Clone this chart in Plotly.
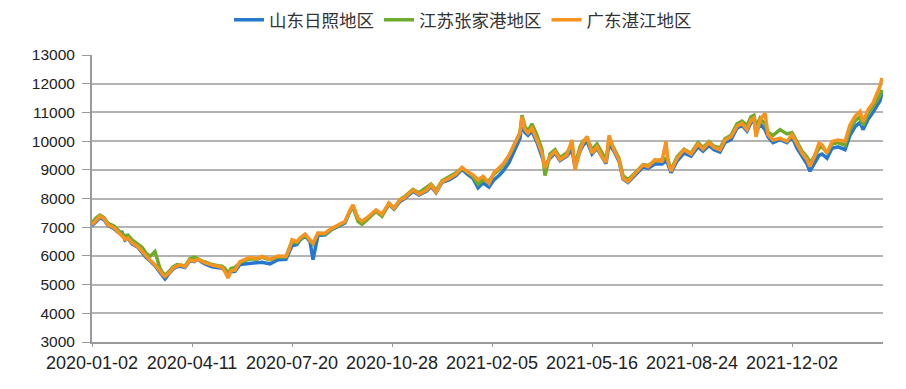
import pandas as pd
import plotly.graph_objects as go

start_date = "2020-01-02"
day_offsets = [0, 4, 8, 12, 16, 22, 26, 30, 33, 36, 40, 46, 50, 54, 58, 63, 68, 71, 73, 77,
               81, 85, 89, 93, 98, 102, 106, 110, 114, 120, 126, 130, 133, 136, 139, 143, 148, 152, 158, 165,
               170, 178, 186, 194, 197, 200, 205, 208, 213, 218, 221, 226, 233, 239, 246, 253, 258, 261, 266, 270,
               275, 284, 290, 297, 302, 308, 312, 321, 327, 335, 339, 344, 350, 357, 364, 370, 375, 381, 386, 391,
               397, 402, 407, 411, 417, 421, 426, 428, 430, 433, 436, 440, 445, 450, 453, 458, 463, 468, 475, 480,
               483, 488, 491, 495, 500, 505, 510, 514, 517, 522, 527, 531, 536, 541, 545, 551, 556, 563, 570, 574,
               576, 579, 585, 592, 599, 606, 611, 617, 622, 628, 633, 639, 645, 650, 655, 659, 662, 664, 668, 673,
               676, 681, 688, 695, 700, 705, 710, 715, 718, 723, 727, 730, 735, 740, 746, 753, 758, 763, 768, 771,
               776, 781, 785, 788, 790]

shandong_rizhao = [7050, 7200, 7330, 7260, 7060, 6950, 6820, 6820, 6550, 6600, 6420, 6300, 6120, 5950, 5820, 5660, 5420, 5300, 5200, 5380,
                   5540, 5620, 5640, 5600, 5840, 5800, 5880, 5780, 5700, 5620, 5600, 5570, 5500, 5350, 5450, 5460, 5700, 5720, 5740, 5760,
                   5780, 5720, 5870, 5880, 6100, 6350, 6400, 6550, 6700, 6500, 5870, 6720, 6730, 6900, 7030, 7150, 7550, 7700, 7280, 7180,
                   7300, 7550, 7420, 7800, 7630, 7900, 7980, 8250, 8120, 8270, 8420, 8200, 8560, 8650, 8800, 9020, 8860, 8700, 8370, 8550,
                   8400, 8650, 8800, 8950, 9250, 9550, 9900, 10100, 10600, 10300, 10200, 10350, 9950, 9500, 9150, 9400, 9580, 9320, 9480, 9700,
                   9100, 9650, 9850, 10000, 9550, 9750, 9420, 9220, 9900, 9650, 9300, 8680, 8560, 8720, 8880, 9100, 9050, 9200, 9200, 9300,
                   9200, 8900, 9300, 9580, 9480, 9800, 9650, 9850, 9700, 9620, 9950, 10050, 10450, 10550, 10350, 10650, 10700, 10300, 10600, 10400,
                   10150, 9950, 10050, 9950, 10150, 9750, 9450, 9200, 8950, 9250, 9500, 9550, 9400, 9750, 9800, 9700, 10200, 10500, 10650, 10400,
                   10750, 11000, 11200, 11400, 11680]

jiangsu_zhangjiagang = [7150, 7320, 7420, 7340, 7130, 7040, 6900, 6760, 6700, 6720, 6560, 6420, 6300, 6100, 5980, 6150, 5560, 5400, 5330, 5450,
                        5620, 5700, 5680, 5650, 5900, 5960, 5900, 5820, 5780, 5700, 5660, 5640, 5560, 5400, 5560, 5600, 5760, 5830, 5900, 5880,
                        5950, 5860, 5970, 5960, 6250, 6500, 6450, 6580, 6720, 6520, 6420, 6780, 6760, 6920, 7050, 7180, 7560, 7720, 7200, 7100,
                        7250, 7560, 7380, 7830, 7650, 7960, 8050, 8320, 8200, 8380, 8500, 8280, 8620, 8760, 8900, 9060, 8920, 8760, 8500, 8650,
                        8620, 8850, 9000, 9150, 9480, 9780, 10150, 10300, 10900, 10500, 10350, 10600, 10200, 9700, 8800, 9550, 9700, 9420, 9600, 9900,
                        9150, 9800, 10000, 10100, 9700, 9900, 9600, 9350, 10000, 9750, 9400, 8800, 8650, 8800, 8960, 9180, 9150, 9300, 9350, 9400,
                        9350, 9000, 9450, 9720, 9580, 9950, 9780, 9980, 9820, 9760, 10080, 10200, 10600, 10700, 10550, 10850, 10900, 10500, 10800, 10600,
                        10300, 10200, 10400, 10250, 10300, 9950, 9650, 9450, 9250, 9500, 9750, 9800, 9600, 9900, 9950, 9850, 10400, 10700, 10850, 10550,
                        10950, 11200, 11450, 11600, 11790]

guangdong_zhanjiang = [7080, 7250, 7380, 7300, 7080, 6980, 6850, 6700, 6580, 6620, 6450, 6320, 6150, 5975, 5850, 5690, 5450, 5340, 5280, 5400,
                       5570, 5650, 5690, 5620, 5860, 5820, 5885, 5800, 5745, 5680, 5630, 5600, 5450, 5230, 5480, 5500, 5800, 5850, 5950, 5900,
                       5980, 5880, 6000, 5990, 6200, 6560, 6500, 6620, 6760, 6560, 6440, 6800, 6790, 6950, 7080, 7200, 7600, 7780, 7310, 7200,
                       7330, 7600, 7450, 7840, 7660, 7950, 8010, 8300, 8150, 8300, 8470, 8220, 8590, 8700, 8850, 9080, 8940, 8820, 8650, 8770,
                       8530, 8900, 9060, 9200, 9500, 9800, 10160, 10280, 10850, 10400, 10280, 10450, 10040, 9580, 9060, 9460, 9640, 9350, 9520, 10040,
                       9000, 9700, 9930, 10160, 9580, 9800, 9460, 9250, 10200, 9700, 9350, 8710, 8590, 8770, 8940, 9170, 9110, 9350, 9300, 9990,
                       9290, 8950, 9400, 9700, 9550, 9900, 9720, 9950, 9780, 9700, 10040, 10150, 10520, 10620, 10400, 10740, 10800, 10150, 10740, 10970,
                       10220, 10040, 10100, 9990, 10220, 9870, 9580, 9350, 9110, 9520, 9930, 9870, 9580, 9990, 10040, 9990, 10560, 10860, 11030, 10680,
                       11090, 11330, 11680, 11910, 12200]

series_names = ["山东日照地区", "江苏张家港地区", "广东湛江地区"]
series_colors = ["#2677cf", "#6fab2b", "#f7931e"]

y_min, y_max, y_step = 3000, 13000, 1000
x_end = "2022-03-03"
tick_step_days = 100

dates = pd.to_datetime(start_date) + pd.to_timedelta(day_offsets, unit="D")

fig = go.Figure()
for name, vals, col in zip(series_names, [shandong_rizhao, jiangsu_zhangjiagang, guangdong_zhanjiang], series_colors):
    fig.add_trace(go.Scatter(x=dates, y=vals, mode="lines", name=name,
                             line=dict(color=col, width=3.5)))

fig.update_layout(
    width=898, height=381,
    margin=dict(l=84, r=23, t=47, b=47, autoexpand=False),
    paper_bgcolor="white", plot_bgcolor="white",
    font=dict(family="Liberation Sans, Arial, sans-serif", color="#333333"),
    legend=dict(orientation="h", x=0.469, xanchor="center", y=1.185, yanchor="top",
                yref="paper", xref="paper",
                font=dict(family="Noto Sans CJK SC", size=17.5, color="#333333"),
                itemwidth=30, traceorder="normal"),
    showlegend=True,
)

fig.update_xaxes(
    type="date", range=[start_date, x_end], automargin=False,
    tick0=start_date, dtick=tick_step_days * 86400000, tickformat="%Y-%m-%d",
    showgrid=False, showline=True, linecolor="#9a9a9a", linewidth=2,
    ticks="outside", ticklen=3, tickcolor="#9a9a9a", tickwidth=1,
    tickfont=dict(size=18, color="#222222"),
    zeroline=False,
)
fig.update_yaxes(
    range=[y_min, y_max], dtick=y_step, tick0=y_min, tickformat="d", automargin=False,
    showgrid=True, gridcolor="#b4b4b4", gridwidth=2,
    showline=True, linecolor="#9a9a9a", linewidth=2,
    ticks="outside", ticklen=8, tickcolor="#9a9a9a",
    ticklabelstandoff=4,
    tickfont=dict(size=15.5, color="#222222"),
    zeroline=False,
)

fig.write_html("out.html")
